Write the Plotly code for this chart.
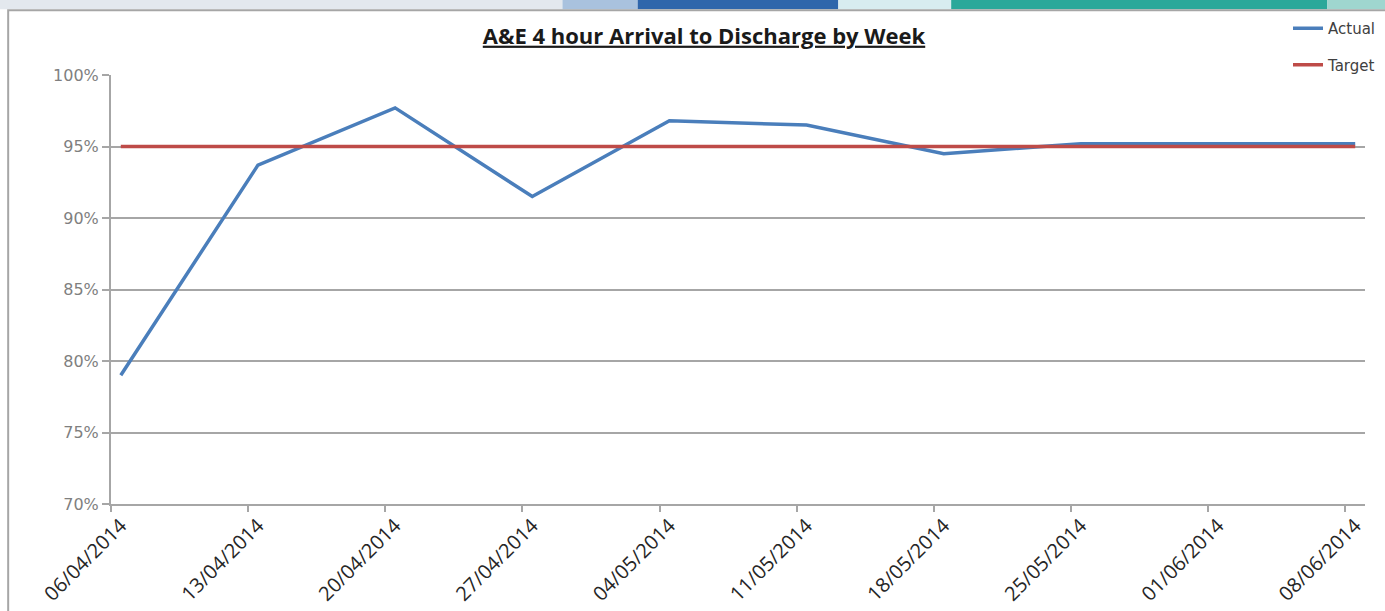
import plotly.graph_objects as go

# ---- data ----
week_dates = ["2014-04-06", "2014-04-13", "2014-04-20", "2014-04-27", "2014-05-04",
              "2014-05-11", "2014-05-18", "2014-05-25", "2014-06-01", "2014-06-08"]
tick_labels = ["06/04/2014", "13/04/2014", "20/04/2014", "27/04/2014", "04/05/2014",
               "11/05/2014", "18/05/2014", "25/05/2014", "01/06/2014", "08/06/2014"]
actual = [79.0, 93.7, 97.7, 91.5, 96.8, 96.5, 94.5, 95.2, 95.2, 95.2]
target = [95, 95, 95, 95, 95, 95, 95, 95, 95, 95]

# points sit in the middle of each day unit (Excel date axis style)
x_mid = [d + " 12:00" for d in week_dates]

fig = go.Figure()
fig.add_trace(go.Scatter(x=x_mid, y=actual, mode="lines", name="Actual",
                         legendgroup="a",
                         line=dict(color="#4a7ebb", width=3.5)))
fig.add_trace(go.Scatter(x=x_mid, y=target, mode="lines", name="Target",
                         legendgroup="t",
                         line=dict(color="#be4b48", width=3.5)))

# decorative strip at top (slide background) and chart border
deco = [
    dict(x0=-0.09, x1=0.36, color="#e3e8ee"),
    dict(x0=0.36, x1=0.42, color="#a9c2de"),
    dict(x0=0.42, x1=0.58, color="#2f66ab"),
    dict(x0=0.58, x1=0.67, color="#d8ecf0"),
    dict(x0=0.67, x1=0.97, color="#2aa89a"),
    dict(x0=0.97, x1=1.02, color="#9fd6cf"),
]
shapes = []
for d in deco:
    shapes.append(dict(type="rect", xref="paper", yref="paper",
                       x0=d["x0"], x1=d["x1"], y0=1.153, y1=1.2,
                       fillcolor=d["color"], line=dict(width=0), layer="below"))
shapes.append(dict(type="rect", xref="paper", yref="paper",
                   x0=-0.082, x1=1.03, y0=-0.3, y1=1.151,
                   line=dict(color="#a6a6a6", width=2), fillcolor="white",
                   layer="below"))

fig.update_layout(
    width=1385, height=611,
    margin=dict(l=111, r=20, t=75, b=107, autoexpand=False),
    paper_bgcolor="white", plot_bgcolor="white",
    shapes=shapes,
    title=dict(text="<b><u>A&E 4 hour Arrival to Discharge by Week</u></b>",
               x=704 / 1385, xref="container", xanchor="center",
               y=1 - 36 / 611, yref="container", yanchor="middle",
               font=dict(family="Open Sans", size=22, color="#1a1a1a")),
    legend=dict(xref="container", yref="container", x=1381 / 1385, xanchor="right",
                y=1 - 12 / 611, yanchor="top", tracegroupgap=14,
                itemwidth=30,
                font=dict(family="DejaVu Sans", size=15, color="#404040"),
                bgcolor="rgba(0,0,0,0)"),
    xaxis=dict(type="date",
               range=["2014-04-06", "2014-06-09"],
               tickmode="array", tickvals=x_mid, ticktext=tick_labels,
               tickangle=-45, ticks="", showgrid=False,
               showline=True, linecolor="#a6a6a6", linewidth=2,
               tickfont=dict(family="Open Sans", size=20, color="#262626"),
               minor=dict(tickmode="array", tickvals=week_dates, ticks="outside",
                          ticklen=6, tickcolor="#a6a6a6", tickwidth=2, showgrid=False)),
    yaxis=dict(range=[70, 100], dtick=5, tick0=70, ticksuffix="%",
               showgrid=True, gridcolor="#a6a6a6", gridwidth=1.5,
               showline=True, linecolor="#a6a6a6", linewidth=2,
               ticks="outside", ticklen=7, tickcolor="#a6a6a6", tickwidth=2,
               zeroline=False,
               tickfont=dict(family="DejaVu Sans", size=16, color="#7f7f7f")),
)

fig.write_html("out.html", config={"displayModeBar": False},
               post_script="document.body.style.margin='0';")
